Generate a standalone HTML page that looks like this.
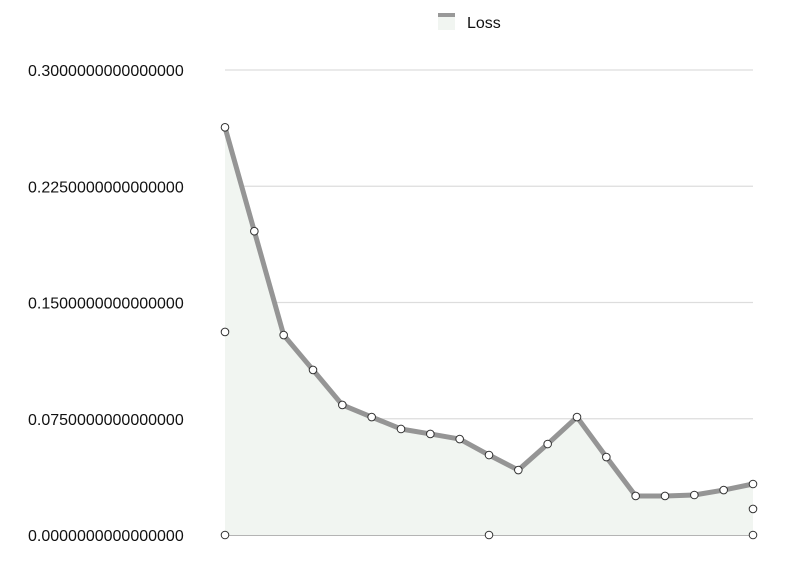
<!DOCTYPE html>
<html><head><meta charset="utf-8"><style>
body{margin:0;background:#fff;font-family:"Liberation Sans",sans-serif}
svg{display:block}
</style></head><body>
<svg id="chart" width="802" height="574">
<g id="legend">
<rect x="438" y="13" width="17" height="17" fill="#f1f5f1"/>
<rect x="438" y="13" width="17" height="4" fill="#999"/>
<text x="467" y="28" font-size="16" fill="#111">Loss</text>
</g>
<g id="grid"></g><g id="area"></g><g id="line"></g><g id="points"></g>
</svg>
<script>
const yTicks=[0,0.075,0.15,0.225,0.3];
const yTickLabels=["0.0000000000000000","0.0750000000000000","0.1500000000000000","0.2250000000000000","0.3000000000000000"];
const lossValues=[0.263,0.196,0.129,0.1065,0.0839,0.0761,0.0684,0.0652,0.0619,0.0516,0.0419,0.0587,0.0761,0.0503,0.0252,0.0252,0.0258,0.029,0.0329];
const extraIdx=[0,9,18,0,18];
const extraValues=[0.131,0,0.0168,0,0];
const NS="http://www.w3.org/2000/svg";
const x0=225,x1=753,yb=535,yt=70;
const xs=i=>x0+(x1-x0)*i/(lossValues.length-1);
const ys=v=>yb-(yb-yt)*v/0.3;
function mk(t,a,p){const e=document.createElementNS(NS,t);for(const k in a)e.setAttribute(k,a[k]);p.appendChild(e);return e;}
const grid=document.getElementById('grid');
yTicks.forEach((v,i)=>{
 const l=mk('line',{x1:x0,x2:x1,y1:ys(v),y2:ys(v),stroke:i===0?'#888':'#ddd','stroke-width':1.2},grid);
 
 
 const t=mk('text',{x:28,y:ys(v)+6,'font-size':16,fill:'#111'},grid);
 t.textContent=yTickLabels[i];
 
 
});
let d='M'+x0+','+yb;
lossValues.forEach((v,i)=>d+=' L'+xs(i)+','+ys(v));
d+=' L'+x1+','+yb+' Z';
const ar=mk('path',{d:d,fill:'#f1f5f1'},document.getElementById('area'));


const ln=mk('polyline',{points:lossValues.map((v,i)=>xs(i)+','+ys(v)).join(' '),fill:'none',stroke:'#959595','stroke-width':5,'stroke-linejoin':'round'},document.getElementById('line'));


const pg=document.getElementById('points');
lossValues.forEach((v,i)=>{
 const c=mk('circle',{cx:xs(i),cy:ys(v),r:3.8,fill:'#fff',stroke:'#333','stroke-width':1},pg);
 
 
});
extraValues.forEach((v,k)=>{
 const c=mk('circle',{cx:xs(extraIdx[k]),cy:ys(v),r:3.8,fill:'#fff',stroke:'#333','stroke-width':1},pg);
 
 
});
</script>
</body></html>
